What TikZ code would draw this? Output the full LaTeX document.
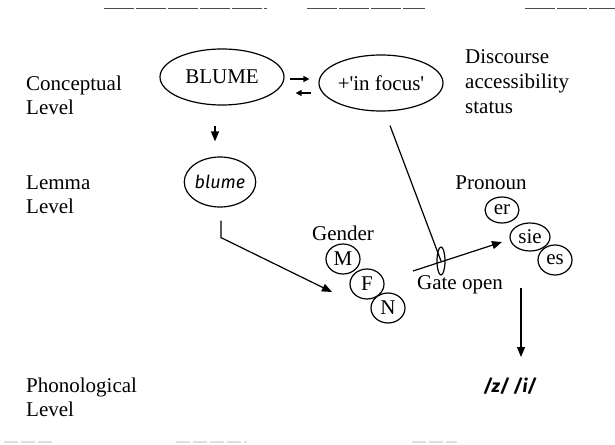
\documentclass[tikz,border=0pt]{standalone}
\usepackage{fontspec}
\setmainfont{Liberation Serif}
\newfontfamily\lemfont{Fira Sans}
\usetikzlibrary{arrows.meta,shapes.geometric,calc}
\begin{document}
\begin{tikzpicture}[x=1pt,y=-1pt,
  every node/.style={font=\fontsize{21}{24}\selectfont, inner sep=0pt},
  levellabel/.style={anchor=west, align=left},
  conn/.style={line width=1.2pt},
  bigoval/.style={ellipse, draw, conn, minimum width=124pt, minimum height=56pt},
  smalloval/.style={ellipse, draw, conn, minimum width=34pt, minimum height=30pt},
  lemtext/.style={font=\lemfont\itshape\fontsize{18}{20}\selectfont},
  tip/.style={-{Triangle[length=10pt,width=8pt]}},
  smalltip/.style={-{Triangle[length=6pt,width=6pt]}},
  scanmark/.style={line width=1.5pt, gray!60!black, dash pattern=on 30pt off 2pt},
  scanfaint/.style={line width=2pt, gray!25, dash pattern=on 14pt off 3pt}
]
\useasboundingbox (0,0) rectangle (615,444);

% faint rules left over along the page edges
\draw[scanmark] (104,8.5) -- (267,8.5);
\draw[scanmark] (307,8.5) -- (425,8.5);
\draw[scanmark] (525,8.5) -- (615,8.5);
\draw[scanfaint] (4,442) -- (55,442);
\draw[scanfaint] (176,442) -- (247,442);
\draw[scanfaint] (412,442) -- (457,442);

% level labels
\node[levellabel] (lvlconc) at (26,95) {Conceptual\\Level};
\node[levellabel] (lvllem) at (26,195) {Lemma\\Level};
\node[levellabel] (lvlphon) at (26,397) {Phonological\\Level};
\node[levellabel, font=\fontsize{21}{25}\selectfont] (disc) at (465,82) {Discourse\\accessibility\\status};

% conceptual level
\node[bigoval] (concept) at (222,77) {BLUME};
\node[bigoval] (focus) at (381,83) {+\textquotesingle in focus\textquotesingle};
\draw[conn, smalltip] ($(concept.east)+(5,2)$) -- ($(focus.west)+(-9,-4)$);
\draw[conn, smalltip] ($(focus.west)+(-7,10)$) -- ($(concept.east)+(11,16)$);

% lemma level
\node[ellipse, draw, conn, minimum width=66pt, minimum height=50pt, lemtext] (lemma) at (220,182) {blume};
\draw[conn, tip] ($(concept.south)+(-7,20)$) -- ($(lemma.north)+(-5,-15)$);

% gender nodes
\node (gender) at (343,233) {Gender};
\node[smalloval] (gm) at (343,259) {M};
\node[smalloval] (gf) at (367,284) {F};
\node[smalloval] (gn) at (388,308) {N};
\coordinate (gin) at (332,292);
\draw[conn, tip] ($(lemma.south)+(1,13)$) -- ++(0,17) -- (gin);

% gate
\node[ellipse, draw, conn, minimum width=8pt, minimum height=28pt] (gate) at (441,261) {};
\draw[conn] ($(focus.south)+(9,14)$) -- (gate.center);
\coordinate (gstart) at (413,271);
\coordinate (gend) at (502,242);
\draw[conn, tip] (gstart) -- (gend);
\node (gatelabel) at (460,285) {Gate open};

% pronoun nodes
\node (pronoun) at (491,183) {Pronoun};
\node[smalloval, minimum height=26pt] (per) at (502,210) {er};
\node[smalloval, minimum width=40pt, minimum height=28pt] (psie) at (530,237) {sie};
\node[smalloval] (pes) at (555,260) {es};

% phonological level
\node[lemtext, font=\lemfont\itshape\bfseries\fontsize{18}{20}\selectfont] (phon) at (510,386) {/z/ /i/};
\coordinate (ptop) at (521,288);
\coordinate (pbot) at (521,357);
\draw[conn, tip] (ptop) -- (pbot);
\end{tikzpicture}
\end{document}
